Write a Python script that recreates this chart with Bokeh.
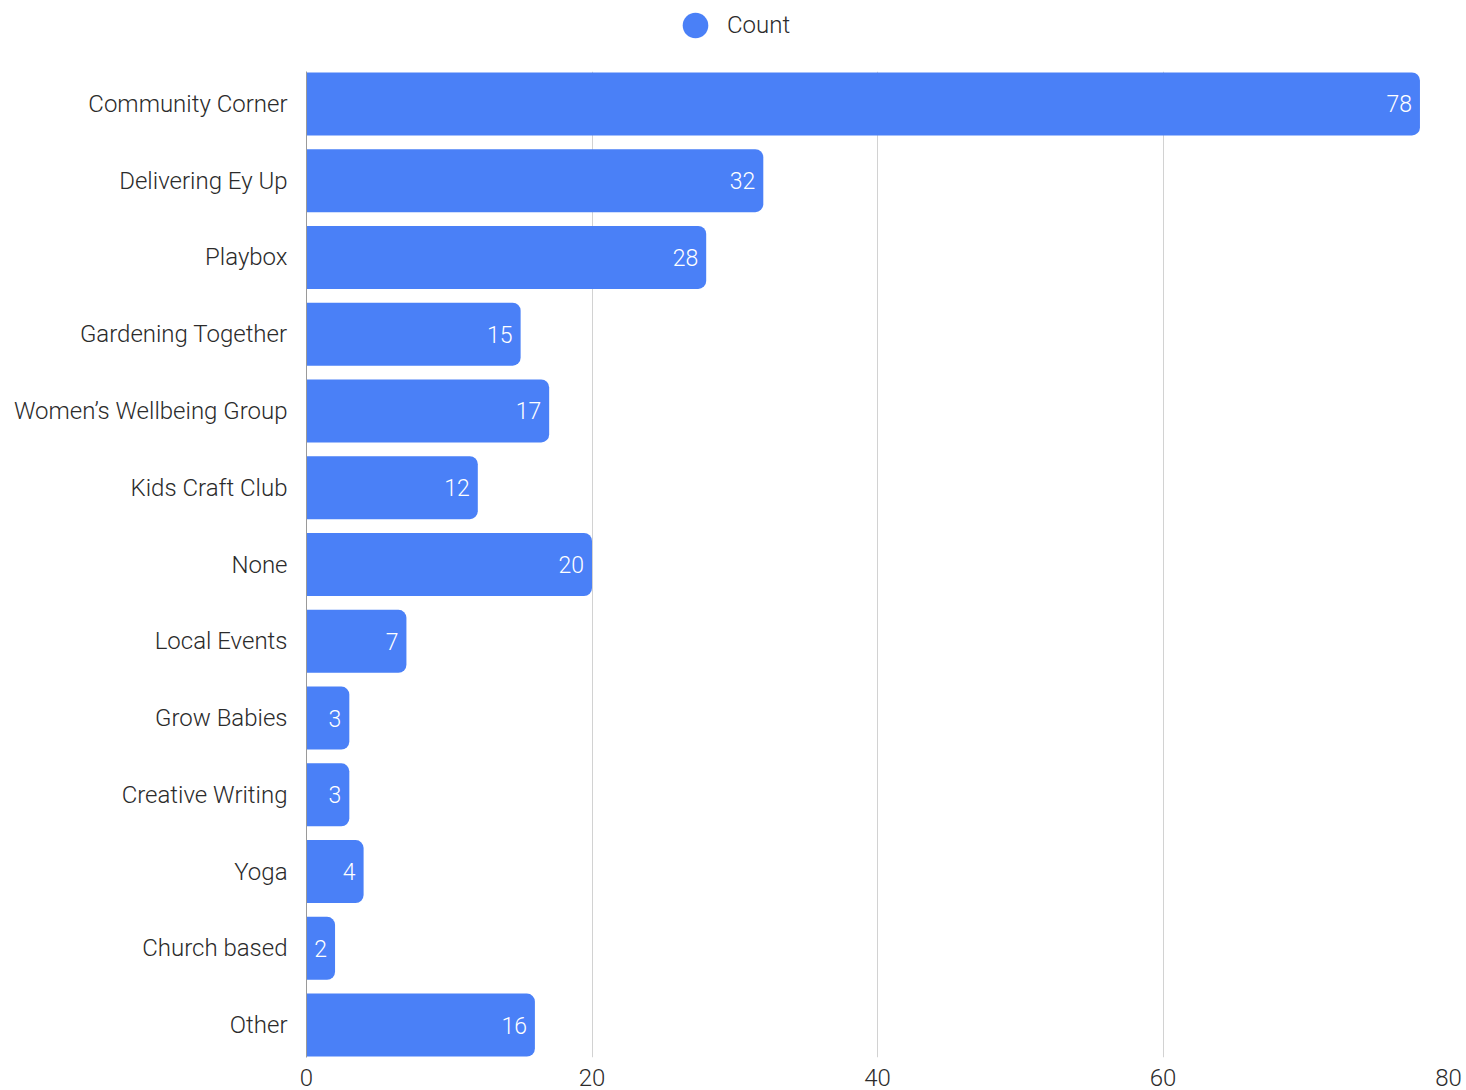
from bokeh.plotting import figure
from bokeh.layouts import column
from bokeh.models import FactorRange, Range1d, ColumnDataSource, Legend, LegendItem, FixedTicker
from bokeh.core.properties import value
from bokeh.embed import file_html
from bokeh.resources import INLINE

categories = ["Community Corner", "Delivering Ey Up", "Playbox", "Gardening Together",
              "Women\u2019s Wellbeing Group", "Kids Craft Club", "None", "Local Events",
              "Grow Babies", "Creative Writing", "Yoga", "Church based", "Other"]
counts = [78, 32, 28, 15, 17, 12, 20, 7, 3, 3, 4, 2, 16]
x_ticks = [0, 20, 40, 60, 80]
series_name = "Count"

FONT = "Roboto Light"
BAR = "#4a80f7"
TXT = "#2b2b2b"

src = ColumnDataSource(dict(cat=categories, count=counts, lab=[str(c) for c in counts]))

xr = Range1d(0, 80)
yr = FactorRange(factors=list(reversed(categories)), range_padding=-0.077,
                 range_padding_units="absolute")

# ---- legend strip on top ----
top = figure(y_range=yr, x_range=xr, output_backend="svg", toolbar_location=None,
             width=1466, height=71, min_border_left=0, min_border_right=0,
             min_border_top=0, min_border_bottom=0, outline_line_color=None,
             x_axis_location=None, y_axis_location=None,
             background_fill_color="white", border_fill_color="white")
top.xgrid.visible = False
top.ygrid.visible = False
dummy = top.scatter(x="count", y="cat", source=src, size=26, marker="circle", fill_color=BAR,
                    line_color=None, visible=False)
legend = Legend(items=[LegendItem(label=series_name, renderers=[dummy], index=0)],
                orientation="horizontal", location=(357, 14), border_line_color=None,
                background_fill_alpha=0, label_text_font=FONT, label_text_font_size="24px",
                label_text_color=TXT, glyph_width=64, glyph_height=64, margin=0, padding=0,
                label_standoff=-14)
top.add_layout(legend, "center")

# ---- main chart ----
p = figure(y_range=yr, x_range=xr, output_backend="svg", toolbar_location=None,
           width=1466, height=1019, min_border_left=306, min_border_right=18,
           min_border_top=0, min_border_bottom=33, outline_line_color=None,
           background_fill_color="white", border_fill_color="white")

p.hbar(y="cat", right="count", left=0, height=0.82, source=src, fill_color=BAR,
       line_color=None, border_radius=(0, 8, 8, 0))
p.text(x="count", y="cat", text="lab", source=src, text_align="right", text_baseline="middle",
       x_offset=-8, y_offset=0, text_color="white", text_font=value(FONT), text_font_size="23px")

p.xaxis.ticker = FixedTicker(ticks=x_ticks)
p.xaxis.axis_line_color = None
p.xaxis.major_tick_line_color = None
p.xaxis.minor_tick_line_color = None
p.xaxis.major_label_text_font = FONT
p.xaxis.major_label_text_font_size = "24px"
p.xaxis.major_label_text_color = TXT
p.xaxis.major_label_standoff = 5

p.yaxis.axis_line_color = "#9a9a9a"
p.yaxis.axis_line_width = 1
p.yaxis.major_tick_line_color = None
p.yaxis.minor_tick_line_color = None
p.yaxis.major_label_text_font = FONT
p.yaxis.major_label_text_font_size = "24px"
p.yaxis.major_label_text_color = TXT
p.yaxis.major_label_standoff = 13

p.ygrid.grid_line_color = None
p.xgrid.grid_line_color = "#d2d2d2"
p.xgrid.grid_line_width = 1

layout = column(top, p, spacing=0)
open("out.html", "w").write(file_html(layout, INLINE))
